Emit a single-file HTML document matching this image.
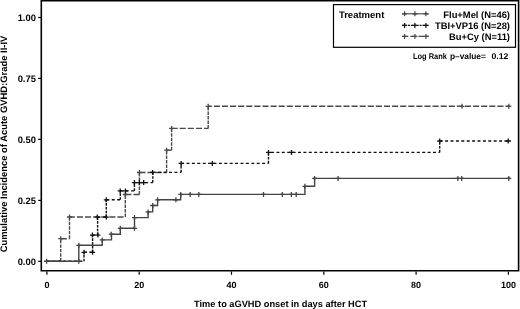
<!DOCTYPE html>
<html><head><meta charset="utf-8"><style>
html,body{margin:0;padding:0;background:#fff;width:520px;height:309px;overflow:hidden}
svg{display:block;filter:grayscale(1)}
text{white-space:pre}
</style></head><body>
<svg width="520" height="309" viewBox="0 0 520 309" font-family='"Liberation Sans", sans-serif' font-weight="bold" text-rendering="geometricPrecision"><rect width="520" height="309" fill="#fff"/><path d="M41.3,0.8 H518.6 V270.7 H41.3 Z" fill="none" stroke="#000" stroke-width="1.6"/><path d="M38.2,17.5H41" stroke="#000" stroke-width="1.2"/><text x="35.9" y="21.3" font-size="9.4" text-anchor="end">1.00</text><path d="M38.2,78.4H41" stroke="#000" stroke-width="1.2"/><text x="35.9" y="82.2" font-size="9.4" text-anchor="end">0.75</text><path d="M38.2,139.4H41" stroke="#000" stroke-width="1.2"/><text x="35.9" y="143.2" font-size="9.4" text-anchor="end">0.50</text><path d="M38.2,200.4H41" stroke="#000" stroke-width="1.2"/><text x="35.9" y="204.2" font-size="9.4" text-anchor="end">0.25</text><path d="M38.2,261.3H41" stroke="#000" stroke-width="1.2"/><text x="35.9" y="265.1" font-size="9.4" text-anchor="end">0.00</text><path d="M46.9,271.4V274.8" stroke="#000" stroke-width="1.2"/><text x="46.9" y="287.6" font-size="9" text-anchor="middle">0</text><path d="M139.2,271.4V274.8" stroke="#000" stroke-width="1.2"/><text x="139.2" y="287.6" font-size="9" text-anchor="middle">20</text><path d="M231.5,271.4V274.8" stroke="#000" stroke-width="1.2"/><text x="231.5" y="287.6" font-size="9" text-anchor="middle">40</text><path d="M323.8,271.4V274.8" stroke="#000" stroke-width="1.2"/><text x="323.8" y="287.6" font-size="9" text-anchor="middle">60</text><path d="M416.1,271.4V274.8" stroke="#000" stroke-width="1.2"/><text x="416.1" y="287.6" font-size="9" text-anchor="middle">80</text><path d="M508.4,271.4V274.8" stroke="#000" stroke-width="1.2"/><text x="508.4" y="287.6" font-size="9" text-anchor="middle">100</text><text x="280.6" y="307.3" font-size="9.25" text-anchor="middle">Time to aGVHD onset in days after HCT</text><text transform="translate(6.5,144.0) rotate(-90)" x="0" y="0" font-size="9.42" text-anchor="middle">Cumulative Incidence of Acute GVHD:Grade II-IV</text><path d="M46.9,261.3H60.7" stroke="#4a4a4a" stroke-width="1.4" stroke-dasharray="6.1 2"/><path d="M60.7,238.7H69.5" stroke="#4a4a4a" stroke-width="1.4" stroke-dasharray="6.1 2"/><path d="M69.5,217.0H125.3" stroke="#4a4a4a" stroke-width="1.4" stroke-dasharray="6.1 2" stroke-dashoffset="0.7"/><path d="M125.3,194.5H139.4" stroke="#4a4a4a" stroke-width="1.4" stroke-dasharray="6.1 2"/><path d="M139.4,172.5H166.6" stroke="#4a4a4a" stroke-width="1.4" stroke-dasharray="6.1 2"/><path d="M166.6,150.2H171.6" stroke="#4a4a4a" stroke-width="1.4" stroke-dasharray="6.1 2"/><path d="M171.6,128.4H208.2" stroke="#4a4a4a" stroke-width="1.4" stroke-dasharray="6.1 2"/><path d="M208.2,106.3H510.5" stroke="#4a4a4a" stroke-width="1.4" stroke-dasharray="6.1 2" stroke-dashoffset="2.45"/><path d="M60.7,261.3V238.7M69.5,238.7V217.0M125.3,217.0V194.5M139.4,194.5V172.5M166.6,172.5V150.2M171.6,150.2V128.4M208.2,128.4V106.3" fill="none" stroke="#4a4a4a" stroke-width="1.4" stroke-dasharray="3.4 1.1"/><path d="M58.2,238.7h5.0M60.7,236.2v5.0M67.0,217.0h5.0M69.5,214.5v5.0M122.8,194.5h5.0M125.3,192.0v5.0M136.9,172.5h5.0M139.4,170.0v5.0M164.1,150.2h5.0M166.6,147.7v5.0M169.1,128.4h5.0M171.6,125.9v5.0M205.7,106.3h5.0M208.2,103.8v5.0M459.5,106.3h5.0M462.0,103.8v5.0M506.3,106.3h5.0M508.8,103.8v5.0" fill="none" stroke="#4a4a4a" stroke-width="1.3"/><path d="M46.9,261.3H84.0" stroke="#111" stroke-width="1.4" stroke-dasharray="3 2.4"/><path d="M84.0,252.3H92.6" stroke="#111" stroke-width="1.4" stroke-dasharray="3 2.4"/><path d="M92.6,235.1H97.6" stroke="#111" stroke-width="1.4" stroke-dasharray="3 2.4"/><path d="M97.6,217.1H106.3" stroke="#111" stroke-width="1.4" stroke-dasharray="3 2.4"/><path d="M106.3,199.8H120.3" stroke="#111" stroke-width="1.4" stroke-dasharray="3 2.4"/><path d="M120.3,190.9H134.4" stroke="#111" stroke-width="1.4" stroke-dasharray="3 2.4"/><path d="M134.4,182.6H152.8" stroke="#111" stroke-width="1.4" stroke-dasharray="3 2.4"/><path d="M152.8,172.4H181.1" stroke="#111" stroke-width="1.4" stroke-dasharray="3 2.4"/><path d="M181.1,163.4H268.5" stroke="#111" stroke-width="1.4" stroke-dasharray="3 2.4"/><path d="M268.5,152.4H439.7" stroke="#111" stroke-width="1.4" stroke-dasharray="3 2.4" stroke-dashoffset="-2.5"/><path d="M439.7,141.0H510.5" stroke="#111" stroke-width="1.4" stroke-dasharray="3 2.4"/><path d="M84.0,261.3V252.3M92.6,252.3V235.1M97.6,235.1V217.1M106.3,217.1V199.8M120.3,199.8V190.9M134.4,190.9V182.6M152.8,182.6V172.4M181.1,172.4V163.4M268.5,163.4V152.4M439.7,152.4V141.0" fill="none" stroke="#111" stroke-width="1.4" stroke-dasharray="2.6 1.2"/><path d="M81.5,252.3h5.0M84.0,249.8v5.0M90.1,252.3h5.0M92.6,249.8v5.0M89.9,235.1h5.0M92.4,232.6v5.0M95.4,235.1h5.0M97.9,232.6v5.0M94.8,217.1h5.0M97.3,214.6v5.0M103.8,217.1h5.0M106.3,214.6v5.0M103.8,199.8h5.0M106.3,197.3v5.0M117.7,190.9h5.0M120.2,188.4v5.0M123.0,190.9h5.0M125.5,188.4v5.0M131.9,182.6h5.0M134.4,180.1v5.0M136.9,182.6h5.0M139.4,180.1v5.0M141.2,182.6h5.0M143.7,180.1v5.0M150.1,172.4h5.0M152.6,169.9v5.0M178.6,163.4h5.0M181.1,160.9v5.0M209.8,163.4h5.0M212.3,160.9v5.0M266.0,152.4h5.0M268.5,149.9v5.0M289.0,152.4h5.0M291.5,149.9v5.0M437.2,141.0h5.0M439.7,138.5v5.0M505.7,141.0h5.0M508.2,138.5v5.0" fill="none" stroke="#111" stroke-width="1.3"/><path d="M44.2,261.3 H78.8 V245.3 H102.2 V239.9 H111.5 V234.2 H120.3 V228.3 H134.5 V217.6 H148.1 V211.9 H152.7 V205.5 H157.6 V199.8 H180.7 V194.4 H304.9 V186.3 H314.6 V178.4 H510.5" fill="none" stroke="#444" stroke-width="1.4"/><path d="M44.1,261.3h5.0M46.6,258.8v5.0M76.3,261.3h5.0M78.8,258.8v5.0M76.3,245.3h5.0M78.8,242.8v5.0M99.7,239.9h5.0M102.2,237.4v5.0M108.7,234.2h5.0M111.2,231.7v5.0M117.8,228.3h5.0M120.3,225.8v5.0M132.0,228.3h5.0M134.5,225.8v5.0M132.0,217.6h5.0M134.5,215.1v5.0M145.6,211.9h5.0M148.1,209.4v5.0M150.2,205.5h5.0M152.7,203.0v5.0M155.1,199.8h5.0M157.6,197.3v5.0M173.4,199.8h5.0M175.9,197.3v5.0M178.2,194.4h5.0M180.7,191.9v5.0M187.7,194.4h5.0M190.2,191.9v5.0M196.3,194.4h5.0M198.8,191.9v5.0M261.0,194.4h5.0M263.5,191.9v5.0M279.8,194.4h5.0M282.3,191.9v5.0M288.9,194.4h5.0M291.4,191.9v5.0M293.7,194.4h5.0M296.2,191.9v5.0M302.4,186.3h5.0M304.9,183.8v5.0M312.1,178.4h5.0M314.6,175.9v5.0M335.6,178.4h5.0M338.1,175.9v5.0M455.4,178.4h5.0M457.9,175.9v5.0M459.2,178.4h5.0M461.7,175.9v5.0M506.3,178.4h5.0M508.8,175.9v5.0" fill="none" stroke="#444" stroke-width="1.3"/><rect x="333.5" y="4.6" width="182" height="42.7" fill="none" stroke="#000" stroke-width="1.2"/><text x="338.9" y="18.3" font-size="9.5">Treatment</text><path d="M402.2,13.8H428.8" stroke="#444" stroke-width="1.1"/><path d="M402.1,13.8h5.0M404.6,11.3v5.0M412.4,13.8h5.0M414.9,11.3v5.0M423.4,13.8h5.0M425.9,11.3v5.0" stroke="#444" stroke-width="1.2"/><text x="510" y="18.2" font-size="9.4" text-anchor="end">Flu+Mel (N=46)</text><path d="M402.2,25.4H428.8" stroke="#111" stroke-width="1.1" stroke-dasharray="2 0.9"/><path d="M402.1,25.4h5.0M404.6,22.9v5.0M412.4,25.4h5.0M414.9,22.9v5.0M423.4,25.4h5.0M425.9,22.9v5.0" stroke="#111" stroke-width="1.2"/><text x="510" y="28.9" font-size="9.4" text-anchor="end">TBI+VP16 (N=28)</text><path d="M402.2,36.4H428.8" stroke="#4a4a4a" stroke-width="1.1" stroke-dasharray="6.1 2"/><path d="M402.1,36.4h5.0M404.6,33.9v5.0M412.4,36.4h5.0M414.9,33.9v5.0M423.4,36.4h5.0M425.9,33.9v5.0" stroke="#4a4a4a" stroke-width="1.2"/><text x="510" y="39.7" font-size="9.4" text-anchor="end">Bu+Cy (N=11)</text><g font-size="8.3"><text x="413" y="59.2" textLength="33.9" lengthAdjust="spacingAndGlyphs">Log Rank</text><text x="449.9" y="59.2" textLength="36" lengthAdjust="spacingAndGlyphs">p–value=</text><text x="491.4" y="59.2" textLength="17.1" lengthAdjust="spacingAndGlyphs">0.12</text></g></svg>
</body></html>
